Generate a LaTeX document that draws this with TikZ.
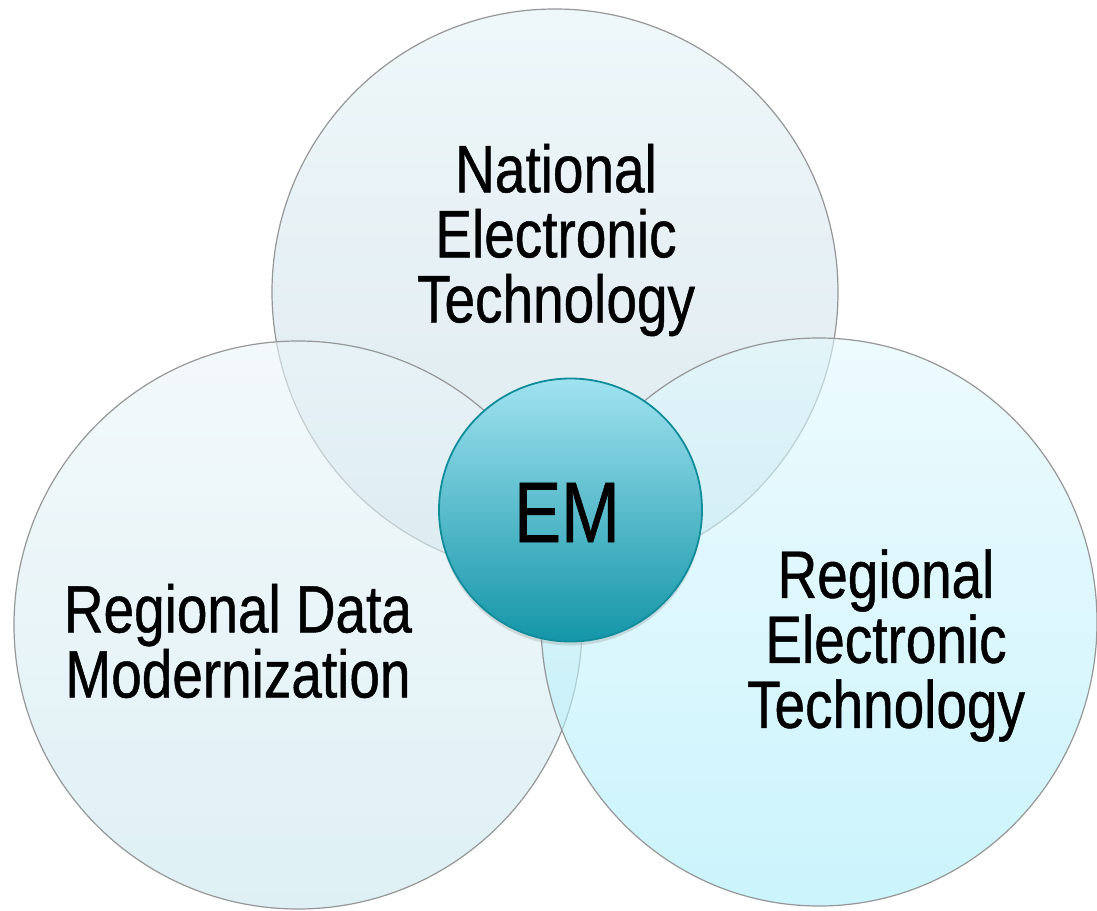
\documentclass[tikz,border=0pt]{standalone}
\usepackage{fontspec}
\setmainfont{Liberation Sans}[FakeStretch=0.82,FakeBold=0.7]
\usetikzlibrary{shapes.geometric,shadows}
\definecolor{ringgray}{RGB}{150,150,150}
\definecolor{topA}{RGB}{227,242,247}
\definecolor{topB}{RGB}{198,218,227}
\definecolor{leftA}{RGB}{235,245,249}
\definecolor{leftB}{RGB}{200,230,238}
\definecolor{rightA}{RGB}{225,248,253}
\definecolor{rightB}{RGB}{168,236,250}
\definecolor{emA}{RGB}{160,226,240}
\definecolor{emB}{RGB}{20,150,168}
\definecolor{emline}{RGB}{16,140,155}
\begin{document}
\begin{tikzpicture}[x=1pt,y=-1pt,
  bigc/.style={circle, inner sep=0pt, draw=ringgray, line width=1.2pt, fill opacity=0.6, draw opacity=1},
  lbl/.style={font=\fontsize{67}{65}\selectfont, align=center, text=black, inner sep=0pt},
  emc/.style={circle, inner sep=0pt, draw=emline, line width=1.8pt, top color=emA, bottom color=emB,
    drop shadow={opacity=0.25, shadow xshift=0pt, shadow yshift=-4pt}},
]
\useasboundingbox (0,0) rectangle (1097,910);
\node[bigc, minimum size=566pt, top color=topA, bottom color=topB] (topc) at (555,292) {};
\node[bigc, minimum size=568pt, top color=leftA, bottom color=leftB] (leftc) at (298,625) {};
\node[bigc, ellipse, minimum width=556pt, minimum height=568pt, top color=rightA, bottom color=rightB] (rightc) at (819,622) {};
\node[emc, minimum size=263pt] (em) at (570.5,510) {};
\node[lbl] (toplbl) at (556,240) {National\\Electronic\\Technology};
\node[lbl] (leftlbl) at (238,641) {Regional Data\\Modernization};
\node[lbl] (rightlbl) at (886,645.5) {Regional\\Electronic\\Technology};
\node[inner sep=0pt, font=\fontsize{86}{86}\selectfont] (emlbl) at (567,512.5) {EM};
\end{tikzpicture}
\end{document}
